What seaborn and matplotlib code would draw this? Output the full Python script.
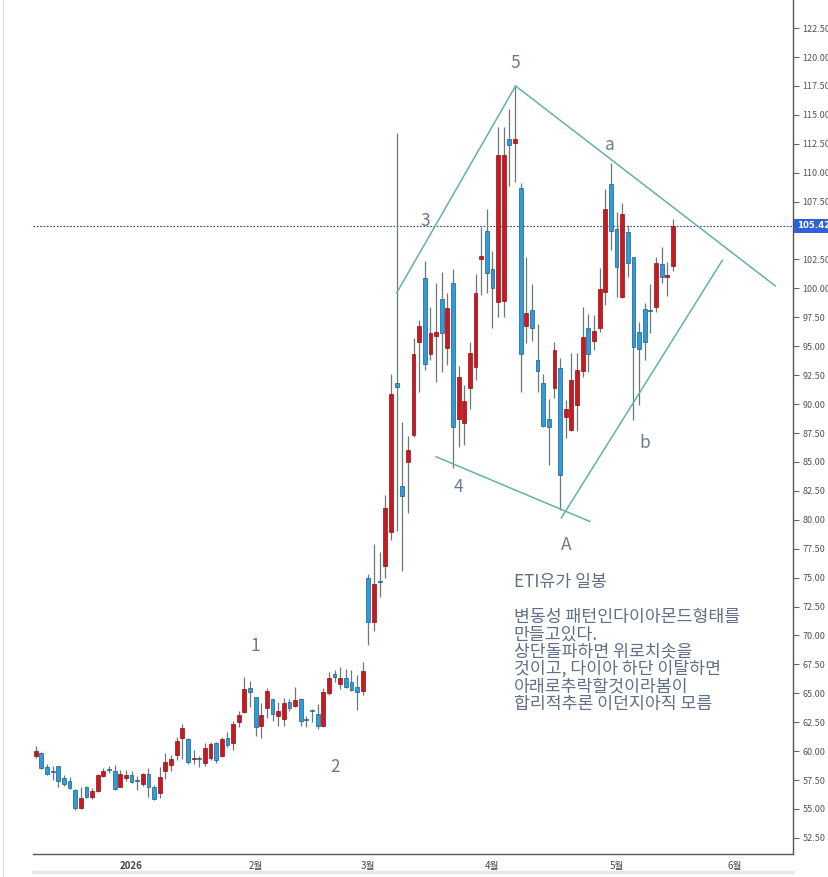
import numpy as np
import pandas as pd
import matplotlib
matplotlib.use("Agg")
import matplotlib.pyplot as plt
import matplotlib.transforms as mtransforms
import seaborn as sns

# ---------------------------------------------------------------
# 일봉 데이터 (차트에서 눈으로 읽은 값)
# ---------------------------------------------------------------
opens = [59.60, 59.88, 58.61, 58.30, 58.73, 57.66, 57.43, 56.65, 55.12, 56.88,
         56.00, 56.57, 57.86, 58.42, 58.32, 56.94, 57.72, 57.92, 57.48, 57.17,
         58.03, 56.94, 56.36, 58.29, 58.81, 59.68, 61.11, 61.02, 59.30, 59.42,
         58.95, 59.44, 60.68, 59.58, 61.11, 60.74, 62.55, 63.41, 65.49, 64.65,
         62.18, 63.70, 64.48, 63.04, 62.75, 64.28, 63.93, 64.50, 62.75, 63.55,
         63.21, 62.18, 65.00, 66.67, 65.81, 66.30, 66.01, 65.58, 65.23, 74.94,
         71.14, 74.72, 76.03, 78.97, 91.85, 82.92, 85.02, 87.33, 95.40, 100.87,
         94.33, 95.89, 99.06, 94.88, 100.50, 88.68, 88.40, 91.36, 93.24, 102.51,
         104.99, 101.65, 98.85, 98.90, 112.88, 112.54, 108.65, 96.75, 98.13, 93.81,
         91.85, 88.68, 91.36, 93.09, 88.92, 87.77, 89.93, 92.87, 96.55, 95.46,
         96.61, 99.66, 109.03, 105.11, 99.29, 104.85, 102.69, 96.21, 98.20, 98.12,
         98.37, 102.08, 101.02, 101.97]
highs = [60.45, 59.94, 58.90, 58.73, 58.75, 57.95, 57.75, 56.70, 56.88, 57.00,
         56.80, 58.03, 58.52, 58.73, 58.81, 58.38, 58.38, 58.30, 57.86, 58.15,
         58.52, 57.08, 58.67, 59.82, 59.68, 61.26, 62.35, 61.10, 60.10, 59.55,
         60.68, 60.75, 60.75, 61.25, 61.69, 62.60, 63.47, 66.44, 66.10, 64.70,
         64.20, 65.43, 64.55, 64.28, 64.57, 64.50, 65.58, 64.60, 63.04, 63.65,
         64.08, 65.49, 66.87, 67.02, 67.25, 67.07, 67.00, 66.58, 67.74, 75.28,
         77.91, 77.19, 82.14, 92.60, 113.40, 88.48, 87.24, 95.69, 97.27, 102.37,
         98.42, 100.50, 101.45, 99.63, 101.65, 93.30, 91.65, 95.34, 101.25, 105.33,
         106.83, 103.26, 113.98, 113.98, 115.47, 117.58, 109.08, 102.68, 100.38, 96.92,
         92.60, 90.41, 95.40, 93.95, 90.36, 94.45, 94.45, 98.42, 97.79, 97.71,
         101.80, 108.57, 110.81, 106.64, 107.41, 105.48, 102.75, 97.13, 98.71, 100.38,
         102.69, 103.61, 102.31, 106.00]
lows = [59.40, 58.47, 57.95, 57.52, 56.88, 57.00, 56.71, 54.92, 55.00, 55.93,
        55.85, 56.50, 57.80, 58.15, 56.65, 56.88, 57.40, 57.23, 56.60, 56.99,
        56.08, 55.79, 55.99, 57.57, 58.32, 59.24, 59.30, 58.89, 58.90, 58.60,
        58.72, 59.24, 58.95, 59.50, 60.33, 60.10, 62.12, 63.27, 63.85, 61.31,
        61.11, 62.84, 62.60, 62.18, 62.18, 63.50, 63.80, 62.18, 62.06, 62.55,
        61.89, 62.06, 64.86, 66.00, 65.35, 65.43, 65.20, 63.56, 64.86, 69.18,
        70.41, 73.30, 74.94, 78.25, 79.00, 75.60, 80.61, 87.19, 91.08, 92.95,
        93.81, 91.94, 92.80, 93.38, 84.45, 86.32, 86.47, 89.55, 92.08, 99.43,
        99.57, 96.55, 97.50, 97.50, 108.85, 109.22, 91.07, 95.31, 95.48, 91.07,
        88.00, 84.73, 90.50, 80.85, 87.05, 87.70, 87.71, 92.32, 92.81, 94.68,
        96.27, 98.57, 103.32, 99.29, 99.15, 101.02, 88.63, 89.93, 93.82, 96.12,
        97.99, 100.50, 99.35, 101.51]
closes = [60.05, 58.52, 58.00, 58.20, 57.40, 57.14, 56.80, 55.12, 55.93, 56.08,
          56.57, 57.95, 58.32, 58.36, 56.71, 58.03, 57.92, 57.34, 57.42, 58.03,
          56.88, 55.90, 57.75, 59.07, 59.30, 60.89, 61.97, 59.09, 59.45, 59.35,
          60.30, 60.59, 59.24, 61.02, 60.54, 62.32, 63.13, 65.35, 65.14, 62.12,
          63.13, 65.20, 63.18, 63.50, 64.19, 63.70, 64.42, 62.60, 62.68, 63.50,
          62.21, 65.09, 66.35, 66.38, 66.30, 65.52, 65.29, 65.14, 66.93, 71.14,
          74.45, 74.65, 81.00, 90.87, 91.45, 82.05, 86.03, 94.33, 96.75, 93.44,
          96.18, 96.26, 96.12, 98.28, 88.05, 92.32, 90.27, 94.39, 99.57, 102.80,
          101.36, 100.00, 111.53, 111.55, 112.36, 112.88, 94.33, 97.84, 96.55, 92.89,
          88.10, 88.05, 94.68, 83.85, 89.55, 92.09, 92.95, 95.83, 94.30, 96.32,
          99.92, 106.87, 105.00, 101.88, 106.43, 102.23, 94.97, 94.77, 95.34, 98.05,
          102.17, 100.96, 101.16, 105.42]

last_price = 105.42

# 날짜 (영업일 기준 봉 위치)
first_day = "2025-12-08"
holidays = ["2025-12-25"]
month_keys = ["2026-01", "2026-02", "2026-03", "2026-04", "2026-05", "2026-06"]
month_labels = ["2026", "2월", "3월", "4월", "5월", "6월"]

# 파동 카운트 라벨 (봉 번호, 가격)
wave_text = ["1", "2", "3", "4", "5", "A", "a", "b"]
wave_bar = [38.9, 53.1, 69.1, 75.0, 85.0, 94.1, 101.9, 108.0]
wave_price = [69.1, 58.6, 105.8, 82.8, 119.5, 77.8, 112.4, 86.6]

# 다이아몬드 추세선 (봉 번호, 가격)
trend_start = [(64.0, 99.6), (85.1, 117.5), (71.0, 85.45), (93.2, 80.15)]
trend_end = [(85.1, 117.5), (131.2, 100.2), (98.3, 79.85), (121.8, 102.45)]

memo_title = "ETI유가 일봉"
memo_lines = ["변동성 패턴인다이아몬드형태를",
              "만들고있다.",
              "상단돌파하면 위로치솟을",
              "것이고, 다이아 하단 이탈하면",
              "아래로추락할것이라봄이",
              "합리적추론 이던지아직 모름"]

# ---------------------------------------------------------------
# 스타일
# ---------------------------------------------------------------
sns.set_theme(style="white")
plt.rcParams['font.family'] = ['Noto Sans CJK KR', 'DejaVu Sans']

up_fill, up_edge = "#c8191f", "#8f1015"
dn_fill, dn_edge = "#2f9bd8", "#1b5c8c"
wick_col = "#6b7a78"
line_col = "#63b3a2"
label_col = "#6c7a8c"
memo_col = "#5f6f85"

W, H = 829, 877
fig = plt.figure(figsize=(W / 100, H / 100), dpi=100)
ax = fig.add_axes([33 / W, 23 / H, 760 / W, 854 / H])

df = pd.DataFrame({"open": opens, "high": highs, "low": lows, "close": closes})
df["x"] = np.arange(len(df))
df["up"] = df["close"] >= df["open"]
df["bottom"] = df[["open", "close"]].min(axis=1)
df["body"] = (df["close"] - df["open"]).abs().clip(lower=0.1)

# 꼬리
ax.vlines(df["x"], df["low"], df["high"], color=wick_col, lw=0.9, zorder=2)
# 몸통
for up, fill, edge in [(True, up_fill, up_edge), (False, dn_fill, dn_edge)]:
    d = df[df["up"] == up]
    ax.bar(d["x"], d["body"], bottom=d["bottom"], width=0.68,
           color=fill, edgecolor=edge, linewidth=0.5, zorder=3)

# 현재가 점선
ax.axhline(last_price, color="#2a4a8a", lw=0.8, ls=(0, (1.5, 1.5)), zorder=1)

# 추세선
for (x0, y0), (x1, y1) in zip(trend_start, trend_end):
    ax.plot([x0, x1], [y0, y1], color=line_col, lw=1.1, zorder=4,
            solid_capstyle="round")

# 파동 라벨
for t, xb, yp in zip(wave_text, wave_bar, wave_price):
    ax.text(xb, yp, t, color=label_col, fontsize=12.5, ha="center", va="center",
            zorder=5)

# 축 범위 / 눈금
ax.set_xlim(-0.48, 134.3)
ax.set_ylim(51.11, 124.93)

dates = pd.bdate_range(first_day, periods=140, freq="C", holidays=holidays)
months = dates.strftime("%Y-%m")
tick_pos = [int(np.argmax(months == m)) for m in month_keys]
ax.set_xticks(tick_pos)
ax.set_xticklabels(month_labels)
for lab in ax.get_xticklabels():
    if lab.get_text() == "2026":
        lab.set_fontweight("bold")

yt = np.arange(52.5, 123, 2.5)
ax.yaxis.tick_right()
ax.set_yticks(yt)
# 105.00 은 현재가 박스 아래에 가려져 있음
ax.set_yticklabels(["" if abs(v - 105) < 0.01 else f"{v:.2f}" for v in yt])
ax.tick_params(axis="y", length=4, width=0.8, color="#666666", labelsize=6.5,
               labelcolor="#555555", pad=3)
ax.tick_params(axis="x", length=3, width=0.8, color="#666666", labelsize=7,
               labelcolor="#444444", pad=2)

for s in ["top", "left"]:
    ax.spines[s].set_visible(False)
for s in ["right", "bottom"]:
    ax.spines[s].set_color("#555555")
    ax.spines[s].set_linewidth(1.0)

# 현재가 박스
trans = mtransforms.blended_transform_factory(ax.transAxes, ax.transData)
ax.annotate(f"{last_price:.2f}", xy=(1.0, last_price), xycoords=trans,
            xytext=(4, 0), textcoords="offset pixels", ha="left", va="center",
            color="white", fontsize=6.2, fontweight="bold",
            family=["DejaVu Sans"],
            bbox=dict(boxstyle="square,pad=0.3", fc="#2f62d8", ec="none"),
            annotation_clip=False, zorder=10)

# 메모 텍스트
fig.text(514 / W, 1 - 582 / H, memo_title, color=memo_col, fontsize=12.4,
         ha="left", va="center")
for i, line in enumerate(memo_lines):
    fig.text(514 / W, 1 - (617 + 17.3 * i) / H, line, color=memo_col,
             fontsize=12.4, ha="left", va="center")

# 화면 테두리 느낌
fig.add_artist(plt.Line2D([3 / W, 3 / W], [0, 1], color="#e2e2e2", lw=0.8))
fig.add_artist(plt.Line2D([33 / W, 793 / W], [1 - 872 / H, 1 - 872 / H],
                          color="#e6e6e6", lw=2.5))

fig.savefig("out.png", dpi=100)
